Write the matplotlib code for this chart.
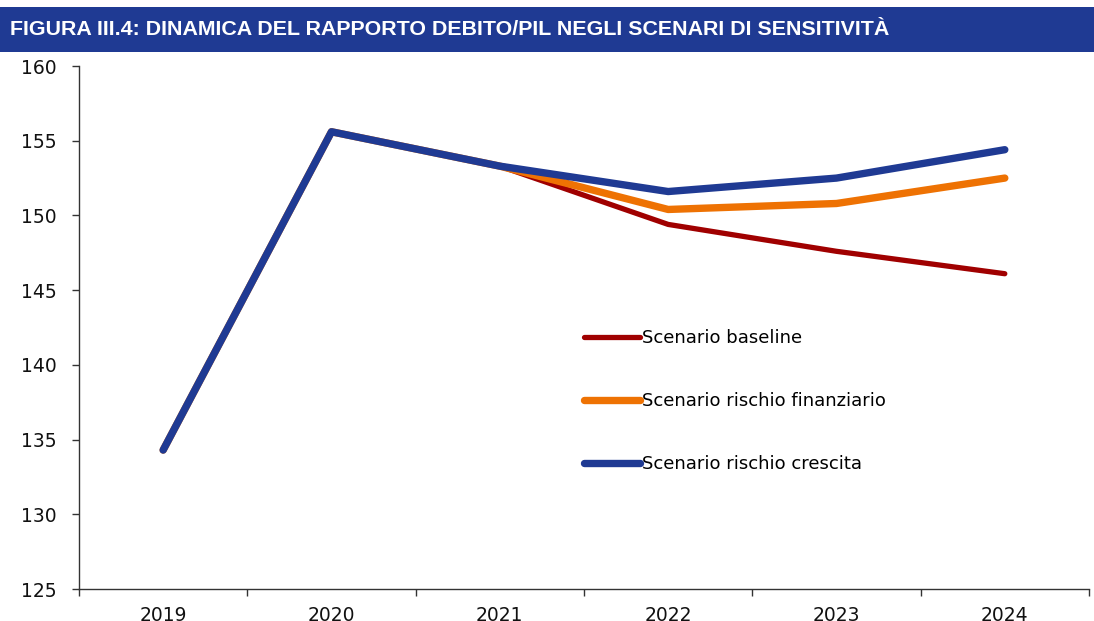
import numpy as np
import matplotlib.pyplot as plt
from matplotlib.patches import Rectangle

anni = ['2019', '2020', '2021', '2022', '2023', '2024']
baseline = [134.3, 155.6, 153.3, 149.4, 147.6, 146.1]
rischio_finanziario = [134.3, 155.6, 153.3, 150.4, 150.8, 152.5]
rischio_crescita = [134.3, 155.6, 153.3, 151.6, 152.5, 154.4]

BLU = '#1f3a93'
ARANCIO = '#ee7203'
ROSSO = '#a00000'

fig = plt.figure(figsize=(10.94, 6.21), dpi=100)

# barra del titolo
fig.patches.append(Rectangle((0, 0.9163), 1, 0.0724, transform=fig.transFigure,
                             facecolor=BLU, edgecolor='none'))
fig.text(0.009, 0.9525, 'FIGURA III.4: DINAMICA DEL RAPPORTO DEBITO/PIL NEGLI SCENARI DI SENSITIVITÀ',
         color='white', fontsize=15.4, fontweight='bold', family='Liberation Sans',
         va='center', ha='left')

ax = fig.add_axes([0.0722, 0.0515, 0.9232, 0.8422])
x = np.arange(len(anni))
ax.plot(x, baseline, color=ROSSO, lw=3.8, solid_capstyle='round', solid_joinstyle='round',
        label='Scenario baseline')
ax.plot(x, rischio_finanziario, color=ARANCIO, lw=5.3, solid_capstyle='round',
        solid_joinstyle='round', label='Scenario rischio finanziario')
ax.plot(x, rischio_crescita, color=BLU, lw=5.3, solid_capstyle='round',
        solid_joinstyle='round', label='Scenario rischio crescita')

ax.set_xlim(-0.5, len(anni) - 0.5)
ax.set_ylim(125, 160)
ax.set_yticks(np.arange(125, 161, 5))
ax.set_xticks(x)
ax.set_xticklabels(anni)
ax.set_xticks(np.arange(-0.5, len(anni), 1), minor=True)
ax.tick_params(axis='x', which='major', length=0, pad=12)
ax.tick_params(axis='x', which='minor', length=5, width=1, color='#333333')
ax.tick_params(axis='y', length=5, width=1, color='#333333', pad=11)
for lab in ax.get_xticklabels() + ax.get_yticklabels():
    lab.set_family('DejaVu Sans')
    lab.set_fontsize(13.5)
    lab.set_color('#111111')

for s in ['top', 'right']:
    ax.spines[s].set_visible(False)
for s in ['left', 'bottom']:
    ax.spines[s].set_color('#333333')
    ax.spines[s].set_linewidth(1)

ax.legend(loc='upper left', bbox_to_anchor=(0.4915, 0.514), frameon=False, borderpad=0,
          prop={'family': 'DejaVu Sans', 'size': 13}, handlelength=3.1,
          handletextpad=0.1, labelspacing=2.5)

fig.savefig('out.png', dpi=100)
